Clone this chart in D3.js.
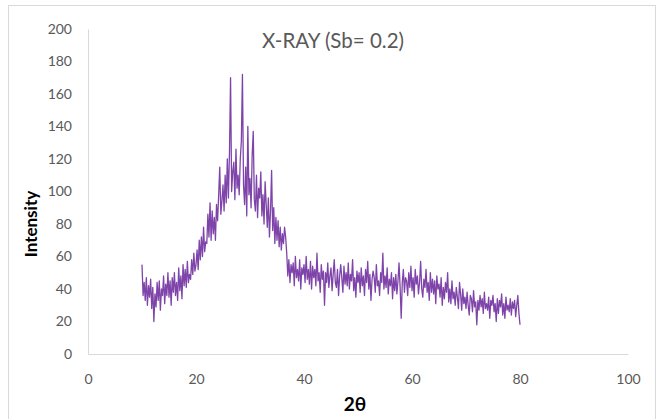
<!DOCTYPE html>
<html><head><meta charset="utf-8">
<script src="https://cdn.jsdelivr.net/npm/d3@7"></script>
<style>body{margin:0;background:#fff}svg{display:block}</style>
</head><body>
<svg id="c" width="661" height="419"></svg>
<script>
const chartTitle = "X-RAY (Sb= 0.2)";
const xTitle = "2θ";
const yTitle = "Intensity";
const xTicks = [0, 20, 40, 60, 80, 100];
const yTicks = [0, 20, 40, 60, 80, 100, 120, 140, 160, 180, 200];
const twoThetaStart = 10;
const twoThetaStep = 0.2;
const intensity = [
55,36,44,33,47, 30,42,35,46,28, 41,20,37,29,44, 33,45,27,40,36,
48,31,43,36,50, 35,45,30,47,38, 50,36,44,33,53, 39,48,34,55,42,
52,41,57,44,49, 46,58,49,62,51, 55,64,52,70,58, 72,60,78,63,69,
68,86,72,93,70, 88,74,84,70,92, 82,98,115,86,94, 104,88,110,93,120,
96,124,170,100,112, 118,95,126,102,110, 98,120,131,172,104, 92,115,85,140,98,
108,90,122,137,95, 88,110,84,102,96, 112,85,98,80,106, 92,78,96,72,88,
113,76,90,68,84, 70,82,66,78,64, 74,68,78,72,62, 48,58,44,55,50,
56,42,60,47,52, 45,58,40,53,49, 55,44,60,46,52, 43,57,40,54,47,
52,42,62,45,50, 38,55,46,51,30, 50,44,56,41,48, 53,39,49,58,44,
41,52,36,48,55, 47,38,54,43,50, 42,56,40,49,45, 58,39,47,35,51,
44,50,38,53,42, 48,36,52,44,57, 40,49,33,46,51, 47,38,55,42,45,
36,50,44,62,40, 48,41,53,37,46, 42,50,34,47,39, 49,37,45,56,41,
22,44,52,38,47, 45,36,50,41,54, 39,47,35,52,43, 48,37,44,57,40,
35,46,41,52,38, 44,33,50,38,46, 37,45,31,48,40, 43,35,47,30,41,
34,44,38,50,32, 40,31,45,34,38, 30,41,35,28,44, 37,27,40,31,35,
28,38,30,24,36, 34,26,39,29,32, 18,33,27,36,29, 34,25,38,28,31,
27,35,22,33,30, 36,26,31,20,34, 25,33,29,37,24, 31,22,35,27,30,
26,34,24,32,28, 33,23,30,36,25, 18
];

const data = intensity.map((v, i) => ({x: +(twoThetaStart + i * twoThetaStep).toFixed(2), y: v}));

const svg = d3.select("#c");
const font = "Lato, 'Open Sans', sans-serif";

svg.append("rect").attr("x", 8.5).attr("y", 5.5).attr("width", 647).attr("height", 430)
  .attr("fill", "#fff").attr("stroke", "#d9d9d9").attr("stroke-width", 1);

const x = d3.scaleLinear().domain([0, 100]).range([88, 628]);
const y = d3.scaleLinear().domain([0, 200]).range([354, 29]);

// axes
const gx = svg.append("g").attr("transform", "translate(0,354)")
  .call(d3.axisBottom(x).tickValues(xTicks).tickSize(0).tickPadding(20).tickFormat(d3.format("d")));
gx.select(".domain").attr("stroke", "#d9d9d9");
gx.selectAll("text").attr("fill", "#595959").style("font", "14px " + font);

const gy = svg.append("g").attr("transform", "translate(88,0)")
  .call(d3.axisLeft(y).tickValues(yTicks).tickSize(0).tickPadding(16).tickFormat(d3.format("d")));
gy.select(".domain").attr("stroke", "#d9d9d9");
gy.selectAll("text").attr("fill", "#595959").style("font", "14px " + font);

// line
const line = d3.line().x(d => x(d.x)).y(d => y(d.y));
svg.append("path").datum(data).attr("d", line)
  .attr("fill", "none").attr("stroke", "#7030a0").attr("stroke-width", 1.3)
  .attr("stroke-linejoin", "round").attr("opacity", 0.9);

// titles
svg.append("text").attr("x", 333).attr("y", 48).attr("text-anchor", "middle")
  .attr("fill", "#595959").style("font", "20.5px " + font).text(chartTitle);
svg.append("text").attr("x", 355).attr("y", 411).attr("text-anchor", "middle")
  .attr("fill", "#000").style("font", "bold 19px " + font).text(xTitle);
svg.append("text").attr("transform", "translate(37,224) rotate(-90)").attr("text-anchor", "middle")
  .attr("fill", "#000").style("font", "bold 17px " + font).text(yTitle);
</script>
</body></html>
